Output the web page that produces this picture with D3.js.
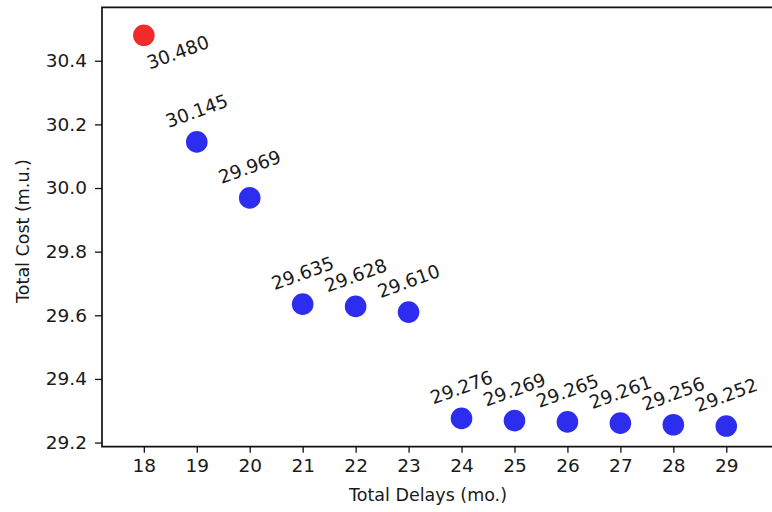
<!DOCTYPE html>
<html>
<head>
<meta charset="utf-8">
<script src="https://cdn.jsdelivr.net/npm/d3@7"></script>
<style>
  html, body { margin: 0; padding: 0; background: #fff; overflow: hidden; }
  svg { display: block; font-family: "DejaVu Sans", sans-serif; }
</style>
</head>
<body>
<svg id="chart" width="772" height="512"></svg>
<script>
// ---- data ----
const delays = [18, 19, 20, 21, 22, 23, 24, 25, 26, 27, 28, 29];
const costs = [30.480, 30.145, 29.969, 29.635, 29.628, 29.610, 29.276, 29.269, 29.265, 29.261, 29.256, 29.252];
const costLabels = ["30.480", "30.145", "29.969", "29.635", "29.628", "29.610", "29.276", "29.269", "29.265", "29.261", "29.256", "29.252"];
const highlighted = [true, false, false, false, false, false, false, false, false, false, false, false];
const xTicks = [18, 19, 20, 21, 22, 23, 24, 25, 26, 27, 28, 29];
const yTicks = [29.2, 29.4, 29.6, 29.8, 30.0, 30.2, 30.4];
const xTitle = "Total Delays (mo.)";
const yTitle = "Total Cost (m.u.)";

// ---- layout ----
const svg = d3.select("#chart");
const plotLeft = 102, plotTop = 7.3, plotBottom = 446.7;
const xmin = 17.21, xmax = 30.3, pxPerUnit = 52.95;
const plotRight = plotLeft + (xmax - xmin) * pxPerUnit;

const x = d3.scaleLinear().domain([xmin, xmax]).range([plotLeft, plotRight]);
const y = d3.scaleLinear().domain([29.187, 30.568]).range([plotBottom, plotTop]);

const fsTick = 18.5, fsAnn = 18.5, fsTitle = 17.5;

// axes
const xAxis = d3.axisBottom(x).tickValues(xTicks).tickFormat(d3.format("d")).tickSize(6).tickPadding(6);
const yAxis = d3.axisLeft(y).tickValues(yTicks).tickFormat(d3.format(".1f")).tickSize(7).tickPadding(8);

const gx = svg.append("g").attr("transform", `translate(0,${plotBottom})`).call(xAxis);
const gy = svg.append("g").attr("transform", `translate(${plotLeft},0)`).call(yAxis);
[gx, gy].forEach(g => {
  g.select(".domain").remove();
  g.selectAll(".tick line").attr("stroke", "#111").attr("stroke-width", 1.3);
  g.selectAll(".tick text").attr("fill", "#1a1a1a").style("font-size", fsTick + "px")
    .style("font-family", '"DejaVu Sans", sans-serif');
});

// spines: left, top, bottom (the right one lies beyond the picture)
const spines = svg.append("g").attr("stroke", "#111").attr("stroke-width", 1.7).attr("fill", "none");
spines.append("path").attr("d", `M${plotRight},${plotTop}H${plotLeft}V${plotBottom}H${plotRight}`);

// points
const pts = delays.map((d, i) => ({ d, c: costs[i], lab: costLabels[i], hi: highlighted[i] }));

svg.append("g").selectAll("circle").data(pts).join("circle")
  .attr("cx", p => x(p.d)).attr("cy", p => y(p.c)).attr("r", 10.8)
  .attr("fill", p => p.hi ? "#f01f1f" : "#2222ee")
  .attr("fill-opacity", 0.95);

// annotations
const lx = p => x(p.d) + (p.hi ? 34 : 0);
const ly = p => y(p.c) + (p.hi ? 17 : -31);
svg.append("g").selectAll("text").data(pts).join("text")
  .attr("x", lx)
  .attr("y", ly)
  .attr("transform", p => `rotate(-20, ${lx(p)}, ${ly(p)})`)
  .attr("text-anchor", "middle").attr("dominant-baseline", "central")
  .attr("fill", "#1a1a1a").style("font-size", fsAnn + "px")
  .text(p => p.lab);

// axis titles
svg.append("text")
  .attr("x", 428).attr("y", 501)
  .attr("text-anchor", "middle").attr("fill", "#1a1a1a").style("font-size", fsTitle + "px")
  .text(xTitle);

svg.append("text")
  .attr("transform", `translate(29,231) rotate(-90)`)
  .attr("text-anchor", "middle").attr("fill", "#1a1a1a").style("font-size", fsTitle + "px")
  .text(yTitle);
</script>
</body>
</html>
